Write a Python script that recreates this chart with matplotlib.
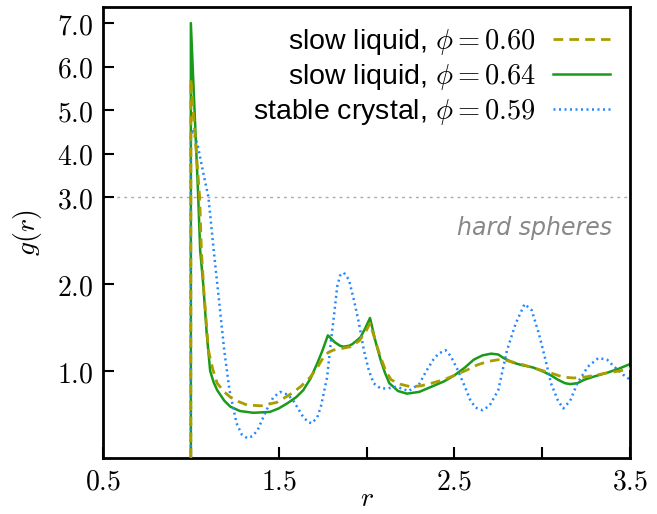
import numpy as np
import matplotlib
matplotlib.use("Agg")
import matplotlib.pyplot as plt

plt.rcParams['mathtext.fontset'] = 'cm'
plt.rcParams['font.family'] = ['DejaVu Sans']

# ---- data ----
r_060 = [1.0, 1.0, 1.05, 1.06, 1.075, 1.1, 1.125, 1.15, 1.19, 1.225, 1.27, 1.32, 1.4, 1.49,
         1.58, 1.63, 1.68, 1.72, 1.755, 1.78, 1.81, 1.86, 1.91, 1.96, 2.0, 2.02, 2.05, 2.08,
         2.11, 2.14, 2.19, 2.25, 2.31, 2.37, 2.44, 2.5, 2.57, 2.63, 2.69, 2.75, 2.8, 2.86,
         2.93, 3.01, 3.06, 3.12, 3.18, 3.24, 3.30, 3.37, 3.44, 3.5]
g_060 = [0.0, 5.71, 3.0, 2.39, 1.9, 1.24, 1.02, 0.86, 0.76, 0.7, 0.65, 0.61, 0.6, 0.64,
         0.75, 0.83, 0.93, 1.04, 1.16, 1.21, 1.24, 1.26, 1.28, 1.35, 1.47, 1.55, 1.35, 1.16,
         1.0, 0.9, 0.85, 0.82, 0.83, 0.86, 0.9, 0.95, 1.01, 1.07, 1.11, 1.13, 1.12, 1.09,
         1.05, 1.0, 0.97, 0.93, 0.92, 0.93, 0.95, 0.98, 1.0, 1.03]

r_064 = [1.0, 1.0, 1.042, 1.053, 1.07, 1.09, 1.11, 1.13, 1.15, 1.19, 1.225, 1.28, 1.356,
         1.45, 1.5, 1.55, 1.6, 1.64, 1.68, 1.72, 1.75, 1.78, 1.80, 1.82, 1.85, 1.87, 1.90,
         1.92, 1.95, 1.966, 1.99, 2.02, 2.05, 2.08, 2.105, 2.13, 2.18, 2.23, 2.30, 2.37,
         2.44, 2.5, 2.56, 2.61, 2.66, 2.71, 2.75, 2.78, 2.83, 2.88, 2.95, 3.01, 3.05, 3.09,
         3.13, 3.16, 3.2, 3.24, 3.30, 3.37, 3.44, 3.5]
g_064 = [0.0, 7.0, 3.0, 2.39, 2.01, 1.44, 1.0, 0.87, 0.78, 0.66, 0.59, 0.54, 0.52,
         0.53, 0.57, 0.63, 0.7, 0.78, 0.91, 1.09, 1.24, 1.41, 1.37, 1.33, 1.29, 1.28, 1.29,
         1.31, 1.36, 1.39, 1.48, 1.61, 1.35, 1.13, 0.98, 0.86, 0.77, 0.74, 0.76, 0.82,
         0.88, 0.95, 1.04, 1.13, 1.18, 1.2, 1.19, 1.15, 1.1, 1.07, 1.04, 0.99, 0.95, 0.9,
         0.86, 0.85, 0.86, 0.9, 0.94, 0.98, 1.03, 1.08]

r_059 = [1.0, 1.0, 1.01, 1.04, 1.07, 1.1, 1.13, 1.16, 1.19, 1.22, 1.26, 1.29, 1.32, 1.35,
         1.38, 1.43, 1.47, 1.51, 1.55, 1.58, 1.64, 1.67, 1.69, 1.72, 1.74, 1.776, 1.795,
         1.814, 1.833, 1.85, 1.871, 1.9, 1.928, 1.957, 1.985, 2.013, 2.04, 2.08, 2.12, 2.17,
         2.24, 2.3, 2.34, 2.38, 2.41, 2.45, 2.48, 2.52, 2.56, 2.59, 2.62, 2.66, 2.7, 2.75,
         2.8, 2.85, 2.9, 2.94, 2.98, 3.02, 3.05, 3.09, 3.12, 3.16, 3.2, 3.26, 3.32, 3.37,
         3.41, 3.46, 3.5]
g_059 = [0.0, 4.4, 4.56, 4.17, 3.57, 3.0, 2.39, 1.82, 1.24, 0.78, 0.4, 0.27, 0.23, 0.25,
         0.32, 0.55, 0.7, 0.76, 0.73, 0.67, 0.47, 0.41, 0.4, 0.47, 0.59, 0.93, 1.3,
         1.62, 1.97, 2.1, 2.13, 2.05, 1.82, 1.55, 1.24, 1.01, 0.86, 0.8, 0.8, 0.82,
         0.77, 0.85, 1.0, 1.13, 1.2, 1.24, 1.17, 1.01, 0.82, 0.67, 0.58, 0.55, 0.6, 0.78,
         1.24, 1.55, 1.77, 1.7, 1.44, 1.12, 0.86, 0.66, 0.57, 0.66, 0.86, 1.05, 1.15, 1.13,
         1.05, 0.96, 0.9]

labels = [r'slow liquid, $\phi=0.60$', r'slow liquid, $\phi=0.64$',
          r'stable crystal, $\phi=0.59$']
x_ticks = [0.5, 1.0, 1.5, 2.0, 2.5, 3.0, 3.5]
x_ticklabels = ['$0.5$', '', '$1.5$', '', '$2.5$', '', '$3.5$']
y_ticks = [1, 2, 3, 4, 5, 6, 7]
y_ticklabels = ['$1.0$', '$2.0$', '$3.0$', '$4.0$', '$5.0$', '$6.0$', '$7.0$']
hs_level = 3.0


def fwd(y):
    y = np.asarray(y, dtype=float)
    return np.where(y <= 3, y, 3 + (y - 3) / 2.0)


def inv(u):
    u = np.asarray(u, dtype=float)
    return np.where(u <= 3, u, 3 + 2.0 * (u - 3))


fig = plt.figure(figsize=(6.57, 5.14), dpi=100)
ax = fig.add_axes([0.1568, 0.1089, 0.8021, 0.8775])
ax.set_yscale('function', functions=(fwd, inv))

ax.axhline(hs_level, color='#aaaaaa', lw=1.0, ls=(0, (2, 3)), zorder=1)
ax.plot(r_060, g_060, color='#a89e00', lw=2.0, ls=(0, (3.5, 2.2)), label=labels[0], zorder=3)
ax.plot(r_064, g_064, color='#1a9a1a', lw=1.8, ls='-', label=labels[1], zorder=2)
ax.plot(r_059, g_059, color='#2288ff', lw=1.8, ls=(0, (0.8, 1.4)), label=labels[2], zorder=2)

ax.set_xlim(0.5, 3.5)
ax.set_ylim(0, 7.37)
ax.set_xticks(x_ticks)
ax.set_xticklabels(x_ticklabels)
ax.set_yticks(y_ticks)
ax.set_yticklabels(y_ticklabels)
ax.yaxis.set_minor_locator(matplotlib.ticker.NullLocator())
ax.tick_params(direction='in', length=8, width=1.5, labelsize=20, pad=7)
for s in ax.spines.values():
    s.set_linewidth(2)

ax.set_xlabel('$r$', fontsize=20)
ax.xaxis.set_label_coords(0.5, -0.058)
ax.set_ylabel('$g(r)$', fontsize=20, labelpad=9)

ax.text(3.40, 2.65, 'hard spheres', fontsize=17, style='italic', color='#888888',
        ha='right', va='center')

leg = ax.legend(loc='upper right', frameon=False, markerfirst=False,
                prop={'family': 'Liberation Sans', 'size': 20.5},
                handlelength=2.0, labelspacing=0.18, borderaxespad=0.3, handletextpad=0.6)

fig.savefig('out.png', dpi=100)
